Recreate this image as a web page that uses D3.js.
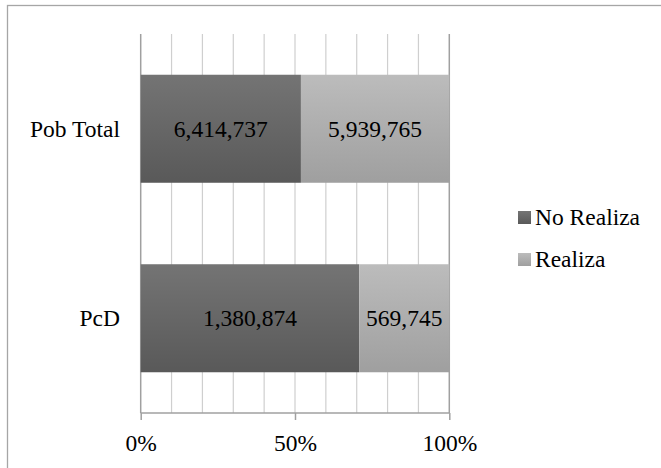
<!DOCTYPE html>
<html>
<head>
<meta charset="utf-8">
<script src="https://cdn.jsdelivr.net/npm/d3@7"></script>
<style>
  html, body { margin: 0; padding: 0; background: #fff; }
  svg { display: block; }
  svg text { font-family: 'Liberation Serif', 'DejaVu Serif', 'Noto Serif', 'Times New Roman', Times, serif !important; }
</style>
</head>
<body>
<div id="chart"></div>
<script>
// Categories (top to bottom) and the two stacked series
const categories = ["Pob Total", "PcD"];
const noRealiza = [6414737, 1380874];
const realiza = [5939765, 569745];
const seriesNames = ["No Realiza", "Realiza"];
const tickValues = [0, 0.5, 1];
const gridValues = [0, 0.1, 0.2, 0.3, 0.4, 0.5, 0.6, 0.7, 0.8, 0.9, 1];

const W = 661, H = 468;
const plot = { left: 140.7, right: 449.3, top: 34, bottom: 413 };
const fontSize = 23.5;

const svg = d3.select("#chart").append("svg")
  .attr("width", W).attr("height", H);

// Vertical gradients for bar fills
const defs = svg.append("defs");
const grads = [
  { id: "gNo", top: "#747474", bottom: "#595959" },
  { id: "gSi", top: "#bcbcbc", bottom: "#9f9f9f" }
];
grads.forEach(g => {
  const lg = defs.append("linearGradient").attr("id", g.id)
    .attr("x1", 0).attr("y1", 0).attr("x2", 0).attr("y2", 1);
  lg.append("stop").attr("offset", "0%").attr("stop-color", g.top);
  lg.append("stop").attr("offset", "100%").attr("stop-color", g.bottom);
});

// Chart frame (right and bottom edges fall outside the view)
svg.append("rect")
  .attr("x", 7.5).attr("y", 5.5).attr("width", W + 20).attr("height", H + 20)
  .attr("fill", "none").attr("stroke", "#a6a6a6").attr("stroke-width", 1.3);

const x = d3.scaleLinear().domain([0, 1]).range([plot.left, plot.right]);
const y = d3.scaleBand().domain(categories).range([plot.top, plot.bottom])
  .paddingInner(0.43).paddingOuter(0.215);

// Gridlines
svg.append("g").selectAll("line").data(gridValues).join("line")
  .attr("x1", d => x(d)).attr("x2", d => x(d))
  .attr("y1", plot.top).attr("y2", plot.bottom)
  .attr("stroke", d => (d === 0 || d === 1) ? "#a0a0a0" : "#cfcfcf")
  .attr("stroke-width", d => (d === 0 || d === 1) ? 1.5 : 1.2);

// Stacked percentage data
const rows = categories.map((c, i) => {
  const total = noRealiza[i] + realiza[i];
  return { cat: c, parts: [
    { key: seriesNames[0], v: noRealiza[i], x0: 0, x1: noRealiza[i] / total, fill: "url(#gNo)" },
    { key: seriesNames[1], v: realiza[i], x0: noRealiza[i] / total, x1: 1, fill: "url(#gSi)" }
  ]};
});

const fmt = d3.format(",");
const barG = svg.append("g");
rows.forEach(r => {
  r.parts.forEach(p => {
    barG.append("rect")
      .attr("x", x(p.x0)).attr("y", y(r.cat))
      .attr("width", x(p.x1) - x(p.x0)).attr("height", y.bandwidth())
      .attr("fill", p.fill);
    barG.append("text")
      .attr("x", (x(p.x0) + x(p.x1)) / 2)
      .attr("y", y(r.cat) + y.bandwidth() / 2 + fontSize * 0.33)
      .attr("text-anchor", "middle")
      .attr("font-size", fontSize)
      .attr("fill", "#000")
      .text(fmt(p.v));
  });
});

// Bottom axis
const axis = d3.axisBottom(x).tickValues(tickValues)
  .tickFormat(d3.format(".0%")).tickSize(7).tickPadding(14);
const ax = svg.append("g").attr("transform", `translate(0,${plot.bottom})`).call(axis);
ax.select(".domain").attr("stroke", "#a0a0a0").attr("stroke-width", 1.5)
  .attr("d", `M${plot.left},0H${plot.right}`);
ax.selectAll(".tick line").attr("stroke", "#a0a0a0").attr("stroke-width", 1.5);
ax.selectAll(".tick text").attr("font-size", fontSize).attr("fill", "#000");

// Category labels
svg.append("g").selectAll("text").data(categories).join("text")
  .attr("x", 120).attr("y", d => y(d) + y.bandwidth() / 2 + fontSize * 0.33)
  .attr("text-anchor", "end").attr("font-size", fontSize)
  .attr("fill", "#000")
  .text(d => d);

// Legend
const legend = svg.append("g");
const legendFills = ["url(#gNo)", "url(#gSi)"];
seriesNames.forEach((s, i) => {
  const ly = 211 + i * 42;
  legend.append("rect").attr("x", 518).attr("y", ly).attr("width", 13).attr("height", 13)
    .attr("fill", legendFills[i]);
  legend.append("text").attr("x", 535).attr("y", ly + 13.5)
    .attr("font-size", fontSize).attr("fill", "#000")
    .text(s);
});
</script>
</body>
</html>
